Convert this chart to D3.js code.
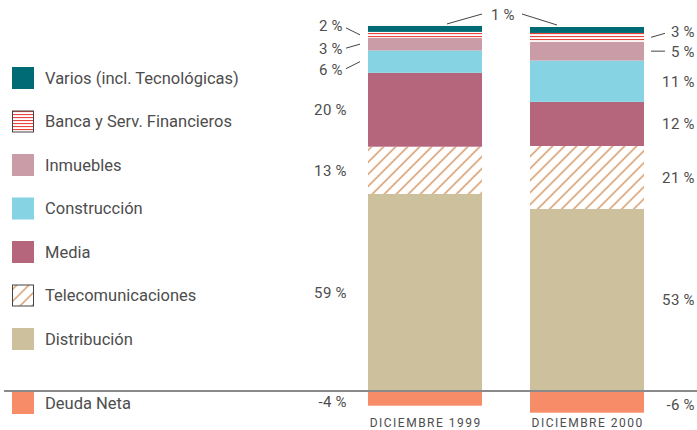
<!DOCTYPE html>
<html>
<head>
<meta charset="utf-8">
<script src="https://cdn.jsdelivr.net/npm/d3@7"></script>
<style>
    body { margin: 0; background: #fff; }
    svg text { font-family: Roboto, "Liberation Sans", sans-serif; fill: #4d4d4d; }
</style>
</head>
<body>
<div id="chart"></div>
<script>
// data
const categories = ["DICIEMBRE 1999", "DICIEMBRE 2000"];
const sectors = ["Varios (incl. Tecnológicas)", "Banca y Serv. Financieros", "Inmuebles",
    "Construcción", "Media", "Telecomunicaciones", "Distribución", "Deuda Neta"];
const values1999 = [1.7, 1.7, 3.6, 6.4, 21.1, 13.5, 56.3, -4.2];
const values2000 = [1.7, 2.5, 5.4, 11.8, 12.6, 18.0, 52.0, -6.2];
const labels1999 = ["1\u2009%", "2\u2009%", "3\u2009%", "6\u2009%", "20\u2009%", "13\u2009%", "59\u2009%", "-4\u2009%"];
const labels2000 = ["1\u2009%", "3\u2009%", "5\u2009%", "11\u2009%", "12\u2009%", "21\u2009%", "53\u2009%", "-6\u2009%"];
const colors = ["#006b74", "url(#banca)", "#c99ca8", "#86d4e3", "#b5657c", "url(#hatch)", "#cdc09d", "#f78c69"];

const width = 697;
const height = 430;

const svg = d3.select("#chart")
    .append("svg")
    .attr("width", width)
    .attr("height", height);

const defs = svg.append("defs");

const banca = defs.append("pattern")
    .attr("id", "banca")
    .attr("patternUnits", "userSpaceOnUse")
    .attr("width", 6)
    .attr("height", 3);
banca.append("rect").attr("width", 6).attr("height", 3).attr("fill", "#fff");
banca.append("rect").attr("y", 0).attr("width", 6).attr("height", 1.1).attr("fill", "#e8463d");

const hatch = defs.append("pattern")
    .attr("id", "hatch")
    .attr("patternUnits", "userSpaceOnUse")
    .attr("width", 8.5)
    .attr("height", 8.5)
    .attr("patternTransform", "rotate(45)");
hatch.append("rect").attr("width", 8.5).attr("height", 8.5).attr("fill", "#fff");
hatch.append("line")
    .attr("x1", 1).attr("y1", 0).attr("x2", 1).attr("y2", 8.5)
    .attr("stroke", "#d9a375")
    .attr("stroke-width", 1.6);

// table for the stack, bottom segment first
const rows = categories.map((c, i) => {
    const vals = i === 0 ? values1999 : values2000;
    const row = { cat: c };
    sectors.forEach((s, j) => row[s] = vals[j]);
    return row;
});
const order = sectors.slice().reverse();

const stack = d3.stack()
    .keys(order)
    .offset(d3.stackOffsetDiverging);
const series = stack(rows);

const x = d3.scaleBand()
    .domain(categories)
    .range([320, 692])
    .padding(0.2963);

const y = d3.scaleLinear()
    .domain([0, 100])
    .range([391, 41]);

svg.append("g")
    .selectAll("g")
    .data(series)
    .join("g")
    .attr("fill", d => colors[sectors.indexOf(d.key)])
    .selectAll("rect")
    .data(d => d)
    .join("rect")
    .attr("x", d => x(d.data.cat))
    .attr("y", d => y(Math.max(d[0], d[1])))
    .attr("height", d => Math.abs(y(d[0]) - y(d[1])))
    .attr("width", x.bandwidth());

// zero line
svg.append("line")
    .attr("x1", 4)
    .attr("x2", width)
    .attr("y1", y(0))
    .attr("y2", y(0))
    .attr("stroke", "#8a8a8a")
    .attr("stroke-width", 2);

// category labels
function xAxis(g) {
    g.attr("transform", `translate(0,${y(0) + 32})`)
        .call(d3.axisBottom(x).tickSize(0).tickPadding(0))
        .call(g => g.select(".domain").remove())
        .attr("font-size", "12px");
    g.selectAll("text")
        .attr("fill", "#4d4d4d")
        .attr("font-family", "Roboto, 'Liberation Sans', sans-serif")
        .attr("dy", "0.35em")
        .attr("dx", "0.7px")
        .style("letter-spacing", "1.5px");
}
svg.append("g").call(xAxis);

// segment value labels
function segMid(catIndex, key) {
    const s = series.find(d => d.key === key)[catIndex];
    return y((s[0] + s[1]) / 2);
}

const callouts = {
    0: { 1: -9, 2: 5, 3: 8 },
    1: { 1: -6, 2: 1 }
};

categories.forEach((c, i) => {
    const labels = i === 0 ? labels1999 : labels2000;
    const left = i === 0;
    sectors.forEach((s, j) => {
        if (j === 0) return;
        const my = segMid(i, s);
        const off = callouts[i][j];
        let ty = my;
        if (off !== undefined) {
            ty = my + off;
            const bx = left ? x(c) - 8 : x(c) + x.bandwidth() + 7;
            const lx = left ? bx - 14 : bx + 14;
            svg.append("line")
                .attr("x1", bx).attr("y1", my)
                .attr("x2", lx).attr("y2", ty + (off < 0 ? 2 : -1))
                .attr("stroke", "#444")
                .attr("stroke-width", 1);
        } else if (j === 7) {
            ty = my + 3;
        }
        svg.append("text")
            .attr("x", left ? (off !== undefined ? 343 : 347) : 695)
            .attr("y", ty)
            .attr("dy", "0.35em")
            .attr("text-anchor", "end")
            .style("font-size", "15px")
            .style("letter-spacing", "0.5px")
            .text(labels[j]);
    });
});

// shared label for Varios
const vTop1 = y(series.find(d => d.key === sectors[0])[0][1]);
const vTop2 = y(series.find(d => d.key === sectors[0])[1][1]);
const midX = (x(categories[0]) + x.bandwidth() + x(categories[1])) / 2;
svg.append("text")
    .attr("x", midX - 3)
    .attr("y", 15)
    .attr("dy", "0.35em")
    .attr("text-anchor", "middle")
    .style("font-size", "15px")
    .style("letter-spacing", "0.5px")
    .text(labels1999[0]);
svg.append("line")
    .attr("x1", x(categories[0]) + 79).attr("y1", vTop1 - 2)
    .attr("x2", x(categories[0]) + x.bandwidth()).attr("y2", 14)
    .attr("stroke", "#444");
svg.append("line")
    .attr("x1", x(categories[1]) - 8).attr("y1", 14)
    .attr("x2", x(categories[1]) + 27).attr("y2", vTop2 - 2)
    .attr("stroke", "#444");

// legend
const legendY = [67, 110.5, 154, 197.5, 241, 284.5, 328, 392];
const legend = svg.append("g");
sectors.forEach((s, j) => {
    const boxed = colors[j].startsWith("url");
    legend.append("rect")
        .attr("x", boxed ? 12.5 : 12)
        .attr("y", boxed ? legendY[j] + 0.5 : legendY[j])
        .attr("width", boxed ? 21 : 22)
        .attr("height", boxed ? 21 : 22)
        .attr("fill", colors[j])
        .attr("stroke", boxed ? "#444" : "none");
    legend.append("text")
        .attr("x", 45)
        .attr("y", legendY[j] + 11)
        .attr("dy", "0.35em")
        .style("font-size", "16.5px")
        .text(s);
});
</script>
</body>
</html>
